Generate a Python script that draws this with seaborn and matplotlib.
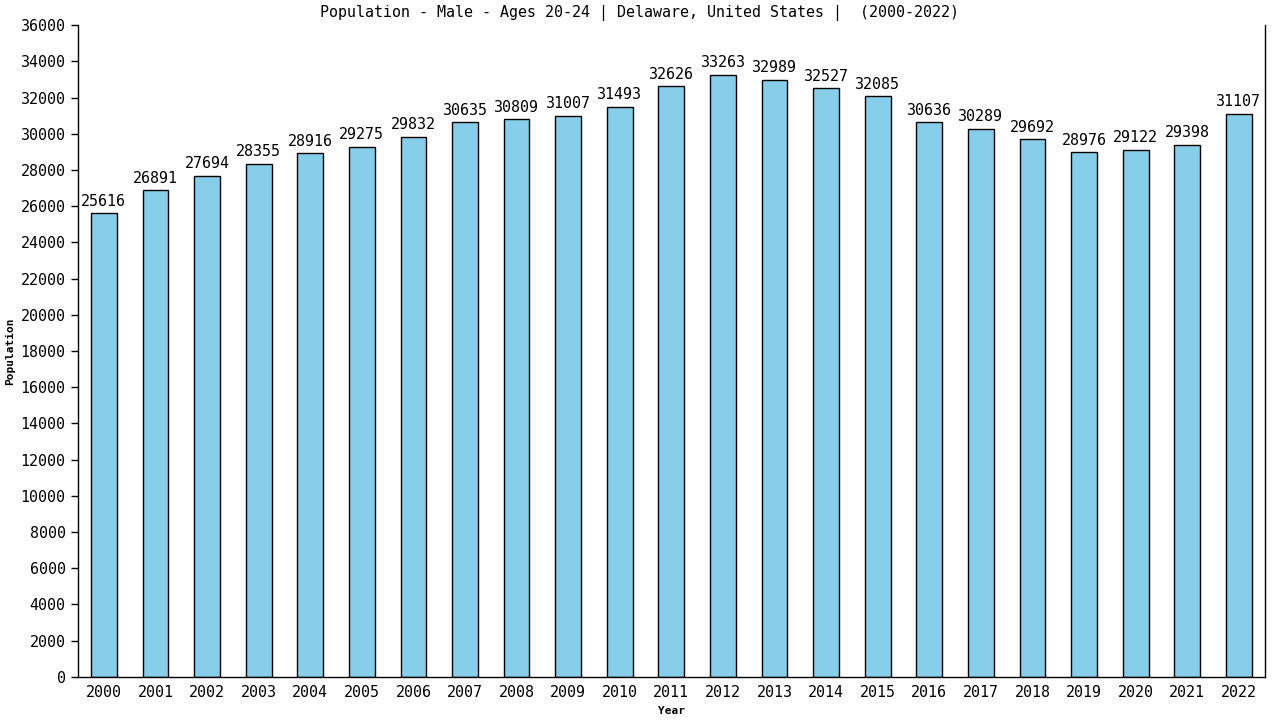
import matplotlib
matplotlib.use("Agg")
import matplotlib.pyplot as plt
import seaborn as sns
import pandas as pd

# chart data
years = [str(y) for y in range(2000, 2023)]
population = [25616, 26891, 27694, 28355, 28916, 29275, 29832, 30635, 30809, 31007,
              31493, 32626, 33263, 32989, 32527, 32085, 30636, 30289, 29692, 28976,
              29122, 29398, 31107]
y_ticks = list(range(0, 36001, 2000))

sns.set_style("white")
plt.rcParams['font.family'] = ['DejaVu Sans Mono']
plt.rcParams['text.color'] = 'black'
plt.rcParams['axes.labelcolor'] = 'black'
plt.rcParams['xtick.color'] = 'black'
plt.rcParams['ytick.color'] = 'black'

df = pd.DataFrame({'Year': years, 'Population': population})

fig = plt.figure(figsize=(12.8, 7.2), dpi=100)
ax = fig.add_axes([0.061, 0.06, 0.927, 0.905])

sns.barplot(data=df, x='Year', y='Population', color='#87CEEB', width=0.5,
            edgecolor='black', linewidth=1, saturation=1, ax=ax)

# value labels above bars
for i, v in enumerate(population):
    ax.text(i, v + 250, str(v), ha='center', va='bottom', fontsize=10.8)

ax.set_xlim(-0.5, len(years) - 0.5)
ax.set_ylim(0, 36000)
ax.set_yticks(y_ticks)
ax.set_yticklabels([str(t) for t in y_ticks], fontsize=10.8)
ax.tick_params(axis='x', labelsize=10.8, length=0, pad=6)
ax.tick_params(axis='y', length=5, width=1, direction='out', left=True, pad=4)

ax.set_xlabel('Year', fontsize=8, fontweight='bold', labelpad=4)
ax.set_ylabel('Population', fontsize=8, fontweight='bold', labelpad=4)
fig.text(0.5, 1 - 13 / 720,
         'Population - Male - Ages 20-24 | Delaware, United States |  (2000-2022)',
         ha='center', va='center', fontsize=10.8)

for side in ['left', 'right', 'bottom']:
    ax.spines[side].set_visible(True)
    ax.spines[side].set_color('black')
    ax.spines[side].set_linewidth(1)
ax.spines['top'].set_visible(False)

fig.savefig('out.png', dpi=100)
